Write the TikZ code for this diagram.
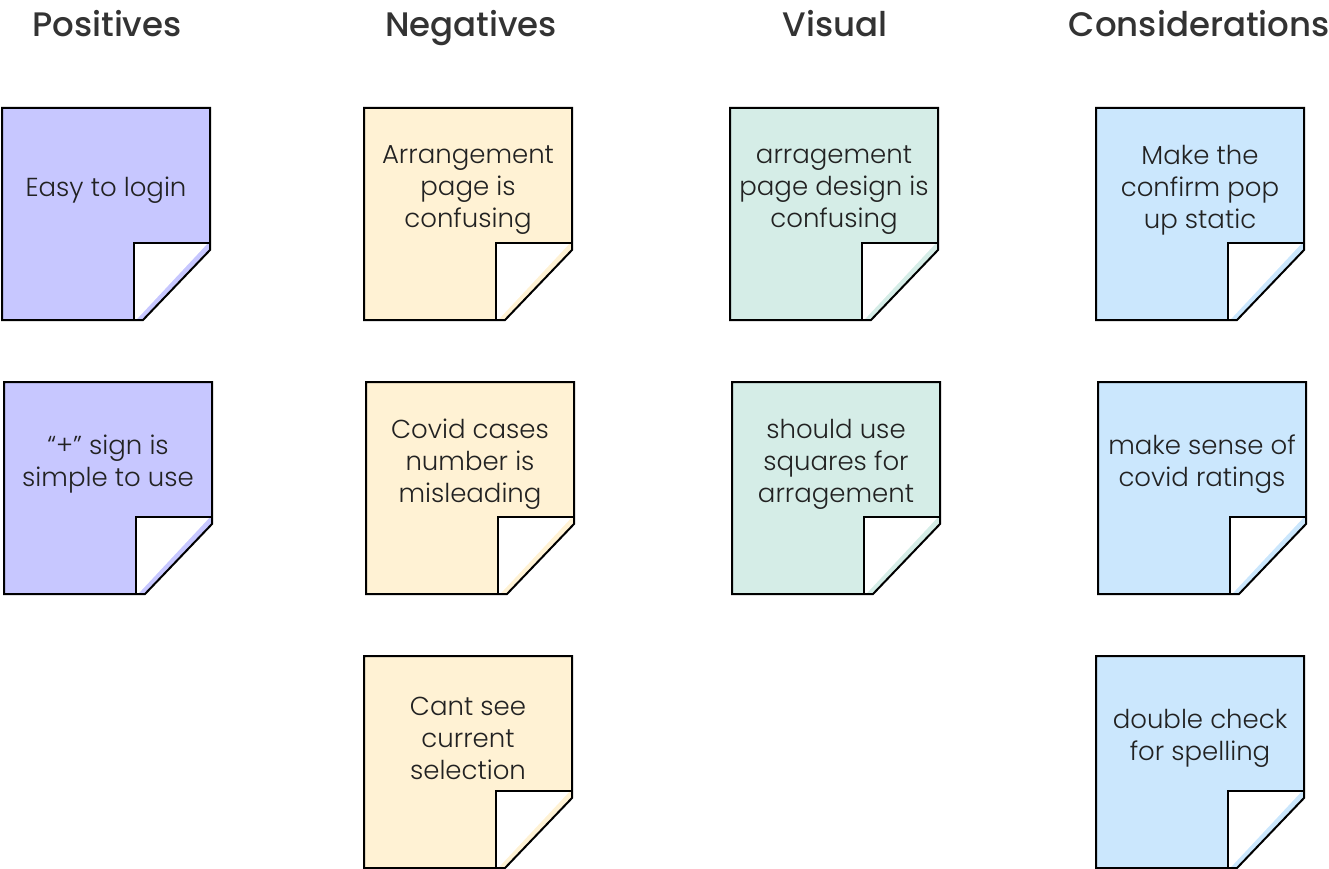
\documentclass[tikz,border=0pt]{standalone}
\usepackage{fontspec}
\setmainfont{Poppins Light}
\newfontfamily\titlefont{Poppins Medium}
\usepackage{xcolor}

\definecolor{posfill}{HTML}{C7C7FF}
\definecolor{negfill}{HTML}{FFF2D4}
\definecolor{visfill}{HTML}{D5EDE7}
\definecolor{confill}{HTML}{CBE7FD}
\definecolor{titlegray}{HTML}{333333}
\definecolor{notegray}{HTML}{222222}

\tikzset{
  heading/.style={anchor=base, font=\titlefont\fontsize{34}{40}\selectfont, text=titlegray},
  notetext/.style={align=center, font=\fontsize{26}{32}\selectfont, text=notegray},
}

% sticky note: name, x, y, colour, text
\newcommand{\stickynote}[5]{%
  \begin{scope}[shift={(#2,#3)}]
    \fill[#4] (0,0) -- (208,0) -- (208,142) -- (141,212) -- (0,212) -- cycle;
    \fill[white] (132,135) -- (206,135) -- (134,212) -- (132,212) -- cycle;
    \draw (132,212) -- (132,135) -- (208,135);
    \draw (0,0) -- (208,0) -- (208,142) -- (141,212) -- (0,212) -- cycle;
    \node[notetext] (#1) at (104,82) {#5};
  \end{scope}}

\begin{document}
\begin{tikzpicture}[x=1pt, y=-1pt, line width=2pt]
  \useasboundingbox (0,0) rectangle (1329,869);

  \node[heading] (positives) at (107,37) {Positives};
  \node[heading] (negatives) at (471,37) {Negatives};
  \node[heading] (visual) at (835,37) {Visual};
  \node[heading, anchor=base east] (considerations) at (1334,37) {Considerations};

  \stickynote{pos1}{2}{108}{posfill}{Easy to login}
  \stickynote{pos2}{4}{382}{posfill}{“+” sign is\\simple to use}

  \stickynote{neg1}{364}{108}{negfill}{Arrangement\\page is\\confusing}
  \stickynote{neg2}{366}{382}{negfill}{Covid cases\\number is\\misleading}
  \stickynote{neg3}{364}{656}{negfill}{Cant see\\current\\selection}

  \stickynote{vis1}{730}{108}{visfill}{arragement\\page design is\\confusing}
  \stickynote{vis2}{732}{382}{visfill}{should use\\squares for\\arragement}

  \stickynote{con1}{1096}{108}{confill}{Make the\\confirm pop\\up static}
  \stickynote{con2}{1098}{382}{confill}{make sense of\\covid ratings}
  \stickynote{con3}{1096}{656}{confill}{double check\\for spelling}
\end{tikzpicture}
\end{document}
